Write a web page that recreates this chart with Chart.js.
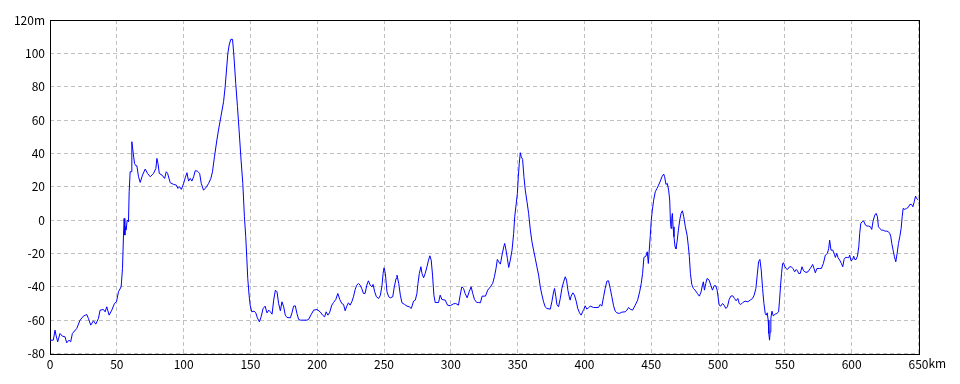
<!DOCTYPE html>
<html>
<head>
<meta charset="utf-8">
<script src="https://cdn.jsdelivr.net/npm/chart.js@4.4.1/dist/chart.umd.min.js"></script>
<style>
html,body{margin:0;padding:0;background:#fff;}
canvas{display:block;}
</style>
</head>
<body>
<canvas id="c" width="960" height="384" style="width:960px;height:384px"></canvas>
<script>
// Distance along route (km)
const distanceKm = [
0,2.5,3.75,4.5,5.75,7.5,9.25,11.25,12.5,14.25,15.5,16.75,20,22.5,25,27.5,28.75,30.5,32.5,34.25,36.25,37.5,40,41.25,42.5,44.25,46.25,48.25,49.75,51.25,53.25,54.25,55,55.5,56,56.5,57,57.75,58.75,59.25,60,60.75,61.25,62,63.25,64.25,65,66.25,67.5,69.25,71.25,73,75,77.5,79.25,80,80.8,81.8,83.8,85.8,87,88,90,92.5,94.5,95.8,97,98.3,
100,101.2,102.5,103.7,105,106.2,107.5,108.7,110.2,112,113.2,114.9,116.7,118.7,120.4,121.6,123.1,124.9,126.1,127.9,129.9,131.1,132.1,133.1,134.1,135.3,136.6,137.6,139,140.3,141.5,143,144.3,145.5,146.5,147.3,148,149,149.8,151,152.7,154,155.2,156.7,158,159.5,161,162.4,163.7,164.9,166.2,167.4,168.7,169.9,171.1,172.4,173.6,174.9,176.1,177.4,179.9,181.1,182.3,183.6,184.8,186.1,187.3,189.8,192.3,193.5,195.5,197.3,199.8,
202.2,204,205.5,206.7,208,209.2,210.9,212.2,213.9,215.4,216.9,218.4,219.7,220.9,222.1,223.4,224.6,225.9,227.1,228.4,229.6,230.8,232.1,233.3,234.6,235.8,237.1,238.3,239.6,241,241.8,243,244.3,246,247.3,248.5,249.3,250,251,252.2,253.5,254.7,256.5,257.7,259,259.7,261,262.2,263.4,265.4,267.2,268.9,270.4,272.1,273.4,274.6,275.4,276.4,277.6,278.4,279.6,280.8,282.1,283.3,284.3,285.3,286.3,287.3,288.3,290.8,292,293.3,295.8,297.5,299.5,
302,303.7,305.7,307,308.2,309.5,310.7,312.2,313.7,315.2,316.4,317.7,319.4,320.6,322.1,323.4,325.9,327.6,329.6,331.3,332.6,333.8,334.8,335.8,337.1,338.3,339.6,340.3,341.3,342.3,343.3,344.5,345.8,347,347.8,348.8,349.8,350.5,351.2,352,352.7,353.7,354.7,355.7,357,358.2,359.5,360.7,361.9,363.2,364.4,365.7,366.9,368.2,369.4,370.6,371.9,374.4,375.6,376.9,377.6,378.6,379.4,380.6,381.9,383.1,384.4,385.6,386.6,387.6,388.6,389.3,390,391.3,392.5,393.8,395,396.3,397.5,398.8,399.5,
400.5,401.8,403,404.3,406.8,410.5,411.8,413,414.3,415.5,416.8,418,419.3,420.5,421.8,423,424.3,426,428,430.5,431.8,433,434.3,436,438,439.8,441.3,442.5,443.5,444.5,446,447,447.8,448.5,449.3,450,450.8,451.8,453,454.3,455.5,456.8,458,459.3,460,461,462,463,463.8,464.3,464.8,465.3,465.8,466.3,467,467.8,468.5,469.3,470.3,471.3,472.3,473.3,474.3,475.5,476.8,477.8,478.5,479.3,480.3,481.5,482.8,484.5,486,487.3,488.3,489,489.8,490.8,491.8,493.3,494.5,495.8,497,498.3,499.3,
500,500.8,502,503.3,504.5,505.8,507,508.3,509.5,511,512.3,513.5,514.8,515.8,517,518.5,520.3,522.3,524,525.8,527,528.3,529.3,530.3,531.3,532.3,533.3,534.3,535.3,536,536.8,537.5,538,538.5,539,539.5,540.3,541.3,542.8,544,545.3,546,546.8,547.5,548.3,549,549.8,550.8,552,553.5,554.8,556,557.3,558.5,559.5,560.3,561.5,562.8,564,565.8,567.3,569,570.8,571.8,572.8,574,575.8,577.3,578.8,580.3,581.8,582.8,583.5,584.5,585.8,587,587.8,588.8,589.8,591,592.3,593.3,594.3,595.3,596.8,597.8,598.5,599.5,
600.8,601.5,602.3,603.3,604.3,605.3,606,606.8,607.8,609,610.3,611.5,612.8,614,615,616,617.3,618.3,619.3,620,621,622.3,623.5,624.8,626.3,627.5,628.5,629.3,630,631,632,633,634,635,636,637,637.8,638.5,639.8,641,642.3,643.5,644.8,645.8,646.8,647.8,648.5,650
];
// Elevation (m)
const elevationM = [
-72,-72,-66,-69,-73,-68,-69.6,-70,-73.6,-72,-73,-68,-65,-60,-57.6,-56.6,-59,-63,-60.4,-62.4,-59,-54,-53.6,-55,-52,-57,-54,-50,-49,-43,-40,-29,-9,1,-9,-4,-6,0,-1,17,29,29,47,42,34,32.6,32.6,26,22.6,27,30.6,28,26,28,31,37,34,28,27,25,29,28,22.4,21.4,21,19,20,18.4,
22,25.4,28.4,23.4,25,23.4,26,29.6,29.4,28,22,18,19.4,22,25,29,38,48,54,62,71,80,90,100,105,108.4,108.4,99,82,68,54,36,22,2,-10,-23,-35,-45,-51,-55,-54.6,-55.6,-58.6,-61,-58,-53,-51.6,-55.6,-54,-55,-56.4,-48,-42,-43,-50,-54.4,-49,-52,-57,-58.4,-58.6,-55.6,-51.6,-51.4,-56,-59.6,-60,-60,-60,-59.6,-56.6,-54,-53.6,
-55,-57,-58,-55,-57,-55.6,-51,-49.4,-47.6,-44,-47.6,-50,-50.6,-54.4,-51.6,-49.6,-51,-49,-46,-41.6,-39,-38,-39,-41,-44,-44,-39,-36.4,-39,-40,-38.6,-43,-46,-47,-45,-39,-32,-28.6,-32,-43,-46,-46.6,-46,-40,-35,-33,-38,-45,-49.6,-50.6,-51.6,-52,-53,-48.6,-48,-44,-38,-32,-28,-32,-34.6,-32,-28,-24,-21.4,-24,-33,-45,-49.4,-49.4,-45,-47.6,-48,-51,-51.4,
-50.2,-50,-51,-45,-40,-41,-44,-46.6,-43,-40,-44,-47.6,-49.4,-49.4,-49.6,-45.6,-45.6,-42,-40,-38,-34,-29,-23.6,-25,-26.4,-21,-16,-14,-18,-23,-28.4,-24,-18,-8,2,9,16,26,34,40.4,38,36.4,26,18,11,4,-6,-13,-18,-23,-28,-33,-40,-45,-49,-52,-53,-53.4,-49,-43,-41,-46,-50.6,-52,-47,-41,-37,-34,-36,-42,-46,-48,-45.6,-43.6,-45,-48.6,-53,-55.6,-57,-54.6,-53.6,
-51.4,-53.4,-52.6,-51.6,-52.4,-52.4,-50.6,-51.6,-46,-41,-36.6,-36.4,-41,-46,-51.4,-54.6,-55.6,-56,-55.2,-55,-54,-52.4,-53.4,-54,-51,-48,-43,-38,-32,-22.4,-21.6,-19,-26,-18,-9,0,6,12,17,19,21,23.4,26,27.6,26,21.4,22,18,12,0,-5,1,4,-4,-10,-16,-17.2,-13,-6,0,4,5.6,2,-4,-9,-16,-22,-32,-38.5,-41,-42,-44,-45.6,-43,-39,-37,-42,-38,-35,-36,-39,-42,-39.4,-39.4,-42,
-46,-51,-51.6,-50,-51,-53,-52,-47.6,-45.6,-45.4,-47,-48.4,-47,-50,-50.6,-49.4,-48.6,-49,-48,-47,-45,-41,-33,-25,-23.6,-30,-41,-50,-56,-57,-55.6,-60,-68,-72,-67,-59,-54.6,-57.4,-56.4,-56,-55,-48,-39,-32,-26,-25.6,-27.6,-29,-29.6,-28,-28,-29,-31,-29.6,-30.5,-32,-32,-28,-30.4,-31.4,-31,-29,-26.6,-29,-31.6,-29,-29,-29,-26,-21,-20,-17,-12,-18,-18,-20.4,-22.4,-20,-22.6,-24,-26,-28,-23.6,-22.4,-22.4,-22.6,-21,-24.4,
-23.6,-21.6,-23.6,-23.6,-21.6,-16,-8,-2,-1,-0.6,-3,-3.6,-3.6,-4,-5.6,-0.6,3,4,2,-4,-5,-6,-6,-6.6,-6.6,-7,-8,-10,-14,-18,-22,-25,-20,-14,-10,-5,2,7,6.4,7,7.6,9.4,9.4,8,11,14.4,13,12
];
// Axis ticks
const xTicks = [0,50,100,150,200,250,300,350,400,450,500,550,600,650];
const yTicks = [-80,-60,-40,-20,0,20,40,60,80,100,120];
const xUnit = 'km';
const yUnit = 'm';

const points = distanceKm.map((d, i) => ({x: d, y: elevationM[i]}));
const FONT = "'Liberation Sans Narrow', 'Noto Sans CJK JP', sans-serif";

const boxPlugin = {
  id: 'box',
  beforeDatasetsDraw(chart) {
    const a = chart.chartArea, ctx = chart.ctx;
    ctx.save();
    ctx.strokeStyle = '#000';
    ctx.lineWidth = 1;
    ctx.setLineDash([]);
    ctx.strokeRect(Math.round(a.left) + 0.5, Math.round(a.top) + 0.5,
      Math.round(a.right) - Math.round(a.left), Math.round(a.bottom) - Math.round(a.top));
    ctx.restore();
  },
  afterDraw(chart) {
    const xs = chart.scales.x, ctx = chart.ctx;
    const last = xTicks[xTicks.length - 1];
    ctx.save();
    ctx.font = '12px ' + FONT;
    ctx.fillStyle = '#000';
    const w = ctx.measureText(String(last)).width;
    ctx.textAlign = 'left';
    ctx.textBaseline = 'top';
    ctx.fillText(xUnit, xs.getPixelForValue(last) + w / 2, xs.top + 4);
    ctx.restore();
  }
};

new Chart(document.getElementById('c'), {
  type: 'line',
  data: {
    datasets: [{
      data: points,
      borderColor: '#0000ff',
      borderWidth: 1,
      pointRadius: 0,
      tension: 0,
      fill: false
    }]
  },
  options: {
    responsive: false,
    animation: false,
    layout: {padding: {top: 20, right: 41.5, left: 0, bottom: 0}},
    plugins: {legend: {display: false}, tooltip: {enabled: false}},
    scales: {
      x: {
        type: 'linear',
        min: xTicks[0],
        max: xTicks[xTicks.length - 1],
        afterBuildTicks: s => { s.ticks = xTicks.map(v => ({value: v})); },
        afterFit: s => { s.height = 30.5; },
        grid: {color: '#c0c0c0', drawTicks: false, lineWidth: 1},
        border: {display: false, dash: [4, 3]},
        ticks: {
          color: '#000', padding: 4, maxRotation: 0, autoSkip: false,
          font: {family: FONT, size: 12},
          callback: v => String(v)
        }
      },
      y: {
        type: 'linear',
        min: yTicks[0],
        max: yTicks[yTicks.length - 1],
        afterBuildTicks: s => { s.ticks = yTicks.map(v => ({value: v})); },
        afterFit: s => { s.width = 50; },
        grid: {color: '#c0c0c0', drawTicks: false, lineWidth: 1},
        border: {display: false, dash: [4, 3]},
        ticks: {
          color: '#000', padding: 5, autoSkip: false,
          font: {family: FONT, size: 12},
          callback: v => v === yTicks[yTicks.length - 1] ? v + yUnit : String(v)
        }
      }
    }
  },
  plugins: [boxPlugin]
});
</script>
</body>
</html>
